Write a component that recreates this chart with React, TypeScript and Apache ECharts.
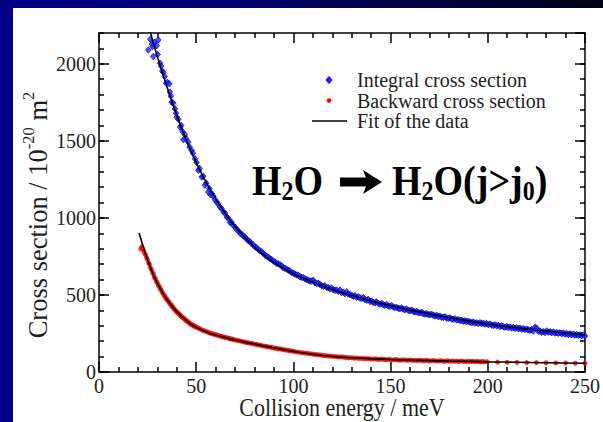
import React, { useEffect, useRef } from "react";
import * as echarts from "echarts";

const SERIF = '"Liberation Serif", "Times New Roman", serif';

// Axis ranges and tick steps (collision energy in meV, cross section in 1e-20 m^2)
const X_MIN = 0;
const X_MAX = 250;
const X_STEP = 50;
const Y_MIN = 0;
const Y_MAX = 2200;
const Y_STEP = 500;
const Y_MINOR_STEP = 100;

const LEGEND_NAMES = ["Integral cross section", "Backward cross section", "Fit of the data"];

// Integral cross section measurements [energy, cross section]
const integralData: [number, number][] = [
  [25.4, 2090], [26.4, 2160], [27.2, 2128], [27.6, 2112], [27.9, 2047], [28.6, 2140], [29.7, 2118], [30.5, 2155],
  [30.2, 2060], [31.4, 2004], [32.0, 1985], [32.6, 1952], [33.1, 1946], [33.8, 1918], [34.5, 1874], [35.2, 1880],
  [36.2, 1870], [36.5, 1816], [37.0, 1790], [37.4, 1751], [38.2, 1745], [39.1, 1708], [39.6, 1680], [40.0, 1654],
  [40.8, 1640], [41.7, 1589], [42.3, 1600], [43.0, 1560], [43.4, 1507], [44.2, 1540], [44.8, 1515], [45.9, 1492],
  [46.6, 1460], [47.7, 1438], [48.3, 1420], [49.4, 1384], [50.2, 1360], [51.1, 1309], [51.8, 1320], [52.8, 1265],
  [53.6, 1270], [54.5, 1212], [55.2, 1225], [56.2, 1168], [56.8, 1190], [57.4, 1150], [58.0, 1158], [58.9, 1140],
  [59.7, 1118], [60.5, 1103], [61.3, 1090], [62.2, 1071], [63.1, 1060], [64.0, 1039], [64.8, 1030], [65.7, 1006],
  [66.5, 998], [67.4, 970], [68.2, 972], [69.1, 950], [70.0, 940], [70.9, 925], [71.7, 915], [72.6, 900],
  [73.4, 895], [74.3, 882], [75.1, 876], [76.0, 862], [76.8, 852], [77.7, 845], [78.5, 832], [79.4, 825],
  [80.2, 812], [81.1, 806], [82.0, 795], [82.8, 786], [83.7, 780], [84.5, 770], [85.4, 758], [86.2, 752],
  [87.1, 745], [88.0, 735], [88.8, 730], [89.7, 720], [90.5, 714], [91.4, 705], [92.2, 702], [93.1, 696],
  [94.0, 688], [94.8, 676], [95.7, 672], [96.5, 668], [97.4, 660], [98.2, 656], [99.1, 645], [100.0, 642],
  [100.8, 635], [101.7, 630], [102.5, 628], [103.4, 618], [104.2, 615], [105.1, 612], [106.0, 604], [106.8, 600],
  [107.7, 596], [108.5, 590], [109.4, 590], [110.2, 596], [111.1, 580], [112.0, 574], [112.8, 576], [113.7, 568],
  [114.5, 562], [115.4, 556], [116.2, 560], [117.1, 550], [118.0, 546], [118.8, 540], [119.7, 545], [120.5, 535],
  [121.4, 530], [122.2, 532], [123.1, 522], [124.0, 531], [124.8, 515], [125.7, 518], [126.5, 508], [127.4, 520],
  [128.2, 506], [129.1, 502], [130.0, 498], [130.8, 492], [131.7, 495], [132.5, 485], [133.4, 488], [134.2, 480],
  [135.1, 476], [136.0, 483], [136.8, 470], [137.7, 466], [138.5, 472], [139.4, 458], [140.2, 460], [141.1, 452],
  [142.0, 449], [142.8, 455], [143.7, 445], [144.5, 440], [145.4, 446], [146.2, 436], [147.1, 432], [148.0, 438],
  [148.8, 428], [149.7, 426], [150.5, 430], [151.4, 422], [152.2, 418], [153.1, 420], [154.0, 414], [154.8, 411],
  [155.7, 416], [156.5, 408], [157.4, 404], [158.2, 409], [159.1, 400], [160.0, 398], [160.8, 402], [161.7, 394],
  [162.5, 390], [163.4, 392], [164.2, 386], [165.1, 384], [166.0, 388], [166.8, 378], [167.7, 376], [168.5, 380],
  [169.4, 372], [170.2, 372], [171.1, 375], [172.0, 368], [172.8, 364], [173.7, 368], [174.5, 360], [175.4, 362],
  [176.2, 356], [177.1, 354], [178.0, 358], [178.8, 350], [179.7, 348], [180.5, 352], [181.4, 344], [182.2, 342],
  [183.1, 346], [184.0, 338], [184.8, 340], [185.7, 334], [186.5, 336], [187.4, 330], [188.2, 332], [189.1, 327],
  [190.0, 330], [190.8, 324], [191.7, 320], [192.5, 324], [193.4, 318], [194.2, 320], [195.1, 314], [196.0, 319],
  [196.8, 314], [197.7, 317], [198.5, 311], [199.4, 314], [200.2, 308], [201.1, 311], [202.0, 305], [202.8, 302],
  [203.7, 306], [204.5, 300], [205.4, 303], [206.2, 296], [207.1, 299], [208.0, 294], [208.8, 291], [209.7, 295],
  [210.5, 289], [211.4, 292], [212.2, 286], [213.1, 289], [214.0, 284], [214.8, 287], [215.7, 281], [216.5, 284],
  [217.4, 279], [218.2, 281], [219.1, 276], [220.0, 279], [220.8, 273], [221.7, 271], [222.5, 275], [223.4, 266],
  [224.2, 290], [225.1, 285], [226.0, 264], [226.8, 266], [227.7, 258], [228.5, 262], [229.4, 256], [230.2, 266],
  [231.1, 259], [232.0, 262], [232.8, 255], [233.7, 260], [234.5, 253], [235.4, 257], [236.2, 251], [237.1, 255],
  [238.0, 249], [238.8, 253], [239.7, 247], [240.5, 250], [241.4, 244], [242.2, 248], [243.1, 242], [244.0, 246],
  [244.8, 240], [245.7, 243], [246.5, 238], [247.4, 241], [248.2, 236], [249.1, 240], [250.0, 234],
];

// Backward cross section measurements [energy, cross section]
const backwardData: [number, number][] = [
  [21.5, 800], [22.0, 812], [22.5, 800], [23.0, 786], [23.5, 770], [24.0, 760], [24.5, 742], [25.0, 728],
  [25.5, 708], [26.0, 698], [26.5, 676], [27.0, 664], [27.5, 645], [28.0, 636], [28.5, 615], [29.0, 606],
  [29.5, 588], [30.0, 580], [30.5, 562], [31.0, 556], [31.5, 540], [32.0, 533], [32.5, 518], [33.0, 510],
  [33.5, 496], [34.0, 490], [34.5, 476], [35.0, 472], [35.5, 460], [36.0, 454], [36.5, 442], [37.0, 438],
  [37.5, 426], [38.0, 422], [38.5, 410], [39.0, 406], [39.5, 396], [40.0, 393], [40.5, 383], [41.0, 380],
  [41.5, 370], [42.0, 368], [42.5, 358], [43.0, 356], [43.5, 348], [44.0, 345], [44.5, 336], [45.0, 334],
  [45.5, 327], [46.0, 324], [46.5, 316], [47.0, 314], [47.5, 308], [48.0, 307], [48.5, 300], [49.0, 299],
  [49.5, 294], [50.0, 292], [50.8, 287], [51.6, 282], [52.4, 278], [53.2, 272], [54.0, 268], [54.8, 265],
  [55.6, 260], [56.4, 257], [57.2, 252], [58.0, 250], [58.8, 246], [59.6, 243], [60.4, 241], [61.2, 238],
  [62.0, 234], [62.8, 232], [63.6, 228], [64.4, 227], [65.2, 224], [66.0, 221], [66.8, 219], [67.6, 215],
  [68.4, 214], [69.2, 210], [70.0, 208], [71.0, 206], [72.0, 203], [73.0, 200], [74.0, 197], [75.0, 194],
  [76.0, 191], [77.0, 189], [78.0, 186], [79.0, 184], [80.0, 181], [81.0, 179], [82.0, 176], [83.0, 174],
  [84.0, 170], [85.0, 168], [86.0, 166], [87.0, 163], [88.0, 161], [89.0, 159], [90.0, 156], [91.0, 154],
  [92.0, 151], [93.0, 150], [94.0, 147], [95.0, 145], [96.0, 143], [97.0, 141], [98.0, 138], [99.0, 137],
  [100.0, 134], [101.2, 131], [102.4, 129], [103.6, 126], [104.8, 125], [106.0, 122], [107.2, 121], [108.4, 118],
  [109.6, 117], [110.8, 114], [112.0, 113], [113.2, 111], [114.4, 110], [115.6, 107], [116.8, 106], [118.0, 104],
  [119.2, 103], [120.4, 101], [121.6, 100], [122.8, 99], [124.0, 97], [125.2, 98], [126.4, 95], [127.6, 94],
  [128.8, 92], [130.0, 93], [131.2, 90], [132.4, 91], [133.6, 88], [134.8, 89], [136.0, 87], [137.2, 86],
  [138.4, 87], [139.6, 85], [140.8, 84], [142.0, 86], [143.2, 83], [144.4, 82], [145.6, 84], [146.8, 81],
  [148.0, 80], [149.2, 82], [150.4, 80], [151.6, 79], [152.8, 81], [154.0, 78], [155.2, 77], [156.4, 79],
  [157.6, 77], [158.8, 76], [160.0, 78], [161.2, 75], [162.4, 76], [163.6, 74], [164.8, 77], [166.0, 74],
  [167.2, 73], [168.4, 76], [169.6, 73], [170.8, 72], [172.0, 75], [173.2, 72], [174.4, 71], [175.6, 74],
  [176.8, 71], [178.0, 70], [179.2, 73], [180.4, 70], [181.6, 72], [182.8, 69], [184.0, 71], [185.2, 68],
  [186.4, 72], [187.6, 69], [188.8, 67], [190.0, 70], [191.2, 68], [192.4, 70], [193.6, 67], [194.8, 69],
  [196.0, 66], [197.2, 68], [198.4, 66], [199.6, 67], [205, 64], [210, 63], [215, 62], [220, 61],
  [225, 61], [230, 60], [235, 59], [240, 58], [245, 57], [250, 57],
];

// Fitted curves [energy, cross section]
const integralFit: [number, number][] = [
  [26, 2225], [27, 2178], [28, 2133], [29, 2090], [30, 2048], [31, 2006], [32, 1966], [33, 1926], [34, 1887],
  [35, 1849], [36, 1811], [37, 1774], [38, 1738], [39, 1702], [40, 1667], [41, 1633], [42, 1599], [43, 1566],
  [44, 1534], [45, 1503], [46, 1473], [47, 1444], [48, 1415], [49, 1387], [50, 1360], [52, 1308], [54, 1258],
  [56, 1211], [58, 1167], [60, 1125], [62, 1085], [64, 1047], [66, 1011], [68, 977], [70, 946], [75, 874],
  [80, 811], [85, 757], [90, 711], [95, 672], [100, 638], [110, 583], [120, 536], [130, 496], [140, 461],
  [150, 430], [160, 402], [170, 377], [180, 354], [190, 332], [200, 312], [210, 295], [220, 280], [230, 266],
  [240, 253], [250, 241],
];

const backwardFit: [number, number][] = [
  [20.6, 903], [21.5, 865], [22.5, 822], [23.5, 782], [24.5, 745], [25.5, 710], [26.5, 677], [27.5, 646],
  [28.5, 617], [29.5, 590], [30.5, 565], [32, 530], [33.5, 498], [35, 470], [36.5, 444], [38, 420], [40, 392],
  [42, 366], [44, 343], [46, 323], [48, 306], [50, 291], [53, 272], [56, 256], [60, 240], [65, 223], [70, 208],
  [75, 194], [80, 181], [85, 168], [90, 156], [95, 145], [100, 134], [110, 115], [120, 101], [130, 92],
  [140, 86], [150, 81], [160, 77], [170, 74], [180, 71], [190, 69], [200, 66], [215, 63], [230, 60], [250, 57],
];

const AXIS_COLOR = "#000";
const LABEL_COLOR = "#1e1e1e";
const BLUE = "#0000ff";
const RED = "#ff0000";

function frameAxis(extra: any) {
  return {
    type: "value",
    splitLine: { show: false },
    minorSplitLine: { show: false },
    axisLine: { show: true, onZero: false, lineStyle: { color: AXIS_COLOR, width: 1.5 } },
    axisTick: { show: true, inside: true, length: 10, lineStyle: { color: AXIS_COLOR, width: 1.5 } },
    ...extra,
  };
}

const plainNumber = (v: number) => String(v);

export default function App() {
  const ref = useRef<HTMLDivElement>(null);

  useEffect(() => {
    if (!ref.current) return;
    const chart = echarts.init(ref.current, undefined, { renderer: "svg" });

    const xCommon = {
      min: X_MIN,
      max: X_MAX,
      interval: X_STEP,
      minorTick: { show: true, splitNumber: 5, length: 5, lineStyle: { color: AXIS_COLOR, width: 1.5 } },
    };
    const minorY = (position: string) =>
      frameAxis({
        position,
        min: Y_MIN,
        max: Y_MAX,
        interval: Y_MINOR_STEP,
        axisLine: { show: false, onZero: false },
        axisTick: { show: true, inside: true, length: 5, lineStyle: { color: AXIS_COLOR, width: 1.5 } },
        axisLabel: { show: false },
      });

    // legend rows: icon centre x, text x, row centres
    const legendIconX = 316;
    const legendTextX = 344;
    const legendRows = [72, 92.5, 113];
    const legendText = (i: number) => ({
      type: "text",
      x: legendTextX,
      y: legendRows[i],
      style: {
        text: LEGEND_NAMES[i],
        fontFamily: SERIF,
        fontSize: 20,
        fill: LABEL_COLOR,
        align: "left",
        verticalAlign: "middle",
      },
    });

    // heavy right arrow between the two formulas
    const ay = 174;
    const ax0 = 327;
    const ax1 = 369;
    const arrow = [
      [ax0, ay - 4.5],
      [ax1 - 16, ay - 4.5],
      [ax1 - 19, ay - 12],
      [ax1, ay],
      [ax1 - 19, ay + 12],
      [ax1 - 16, ay + 4.5],
      [ax0, ay + 4.5],
    ];

    const formulaRich = {
      b: { fontFamily: SERIF, fontSize: 38, fontWeight: "bold", fill: "#000" },
      s: { fontFamily: SERIF, fontSize: 24, fontWeight: "bold", fill: "#000", padding: [18, 0, 0, 0] },
    };

    chart.setOption({
      animation: false,
      backgroundColor: "#ffffff",
      grid: { left: 86, top: 25, right: 18, bottom: 50, containLabel: false },
      xAxis: [
        frameAxis({
          ...xCommon,
          position: "bottom",
          axisLabel: { fontSize: 20, fontFamily: SERIF, color: LABEL_COLOR, margin: 4, formatter: plainNumber },
        }),
        frameAxis({ ...xCommon, position: "top", axisLabel: { show: false } }),
      ],
      yAxis: [
        frameAxis({
          position: "left",
          min: Y_MIN,
          max: Y_MAX,
          interval: Y_STEP,
          axisLabel: {
            fontSize: 20,
            fontFamily: SERIF,
            color: LABEL_COLOR,
            margin: 3,
            showMaxLabel: false,
            formatter: plainNumber,
          },
        }),
        minorY("left"),
        frameAxis({ position: "right", min: Y_MIN, max: Y_MAX, interval: Y_STEP, axisLabel: { show: false } }),
        minorY("right"),
      ],
      graphic: [
        // legend
        {
          type: "polygon",
          shape: {
            points: [
              [legendIconX, legendRows[0] - 3.5],
              [legendIconX + 3, legendRows[0]],
              [legendIconX, legendRows[0] + 3.5],
              [legendIconX - 3, legendRows[0]],
            ],
          },
          style: { fill: "#2424ff", stroke: BLUE, lineWidth: 1 },
        },
        { type: "circle", shape: { cx: legendIconX, cy: legendRows[1], r: 2.3 }, style: { fill: RED } },
        {
          type: "line",
          shape: { x1: legendIconX - 17, y1: legendRows[2], x2: legendIconX + 18, y2: legendRows[2] },
          style: { stroke: "#000", lineWidth: 1.6 },
        },
        legendText(0),
        legendText(1),
        legendText(2),
        // axis titles
        {
          type: "text",
          x: 329,
          y: 399.5,
          scaleY: 1.15,
          style: {
            text: "Collision energy / meV",
            fontFamily: SERIF,
            fontSize: 22,
            fill: LABEL_COLOR,
            align: "center",
            verticalAlign: "middle",
          },
        },
        {
          type: "text",
          x: 25,
          y: 207,
          rotation: Math.PI / 2,
          style: {
            text: "{t|Cross section / 10}{s|-20}{t| m}{s|2}",
            fill: LABEL_COLOR,
            align: "center",
            verticalAlign: "middle",
            rich: {
              t: { fontFamily: SERIF, fontSize: 26.5, fill: LABEL_COLOR },
              s: { fontFamily: SERIF, fontSize: 16.5, fill: LABEL_COLOR, padding: [0, 0, 20, 0] },
            },
          },
        },
        // reaction label
        {
          type: "text",
          x: 239,
          y: 173,
          scaleY: 1.1,
          style: {
            text: "{b|H}{s|2}{b|O}",
            align: "left",
            verticalAlign: "middle",
            rich: formulaRich,
          },
        },
        { type: "polygon", shape: { points: arrow }, style: { fill: "#000" } },
        {
          type: "text",
          x: 379,
          y: 173,
          scaleY: 1.1,
          style: {
            text: "{b|H}{s|2}{b|O(j>j}{s|0}{b|)}",
            align: "left",
            verticalAlign: "middle",
            rich: formulaRich,
          },
        },
      ],
      series: [
        {
          name: LEGEND_NAMES[0],
          type: "scatter",
          data: integralData,
          symbol: "diamond",
          symbolSize: [5.5, 6.5],
          itemStyle: { color: "#2424ff", borderColor: "#0000e6", borderWidth: 0.9 },
          z: 2,
        },
        {
          name: LEGEND_NAMES[1],
          type: "scatter",
          data: backwardData,
          symbol: "circle",
          symbolSize: 5,
          itemStyle: { color: RED },
          z: 2,
        },
        {
          name: LEGEND_NAMES[2],
          type: "line",
          data: integralFit,
          showSymbol: false,
          symbol: "none",
          smooth: 0.3,
          lineStyle: { color: "#000", width: 1.6 },
          itemStyle: { color: "#000" },
          clip: true,
          z: 3,
        },
        {
          name: LEGEND_NAMES[2],
          type: "line",
          data: backwardFit,
          showSymbol: false,
          symbol: "none",
          smooth: 0.3,
          lineStyle: { color: "#000", width: 1.6 },
          itemStyle: { color: "#000" },
          clip: true,
          z: 3,
        },
      ],
    });

    return () => chart.dispose();
  }, []);

  return (
    <div
      style={{
        position: "fixed",
        left: 0,
        top: 0,
        width: 603,
        height: 422,
        background: "#000088",
        overflow: "hidden",
      }}
    >
      <div
        style={{
          position: "absolute",
          left: 0,
          top: 0,
          width: 603,
          height: 8,
          background: "linear-gradient(to right, #000088 0%, #00006e 40%, #000016 100%)",
        }}
      />
      <div
        ref={ref}
        style={{ position: "absolute", left: 13, top: 8, width: 590, height: 414, background: "#ffffff" }}
      />
    </div>
  );
}
